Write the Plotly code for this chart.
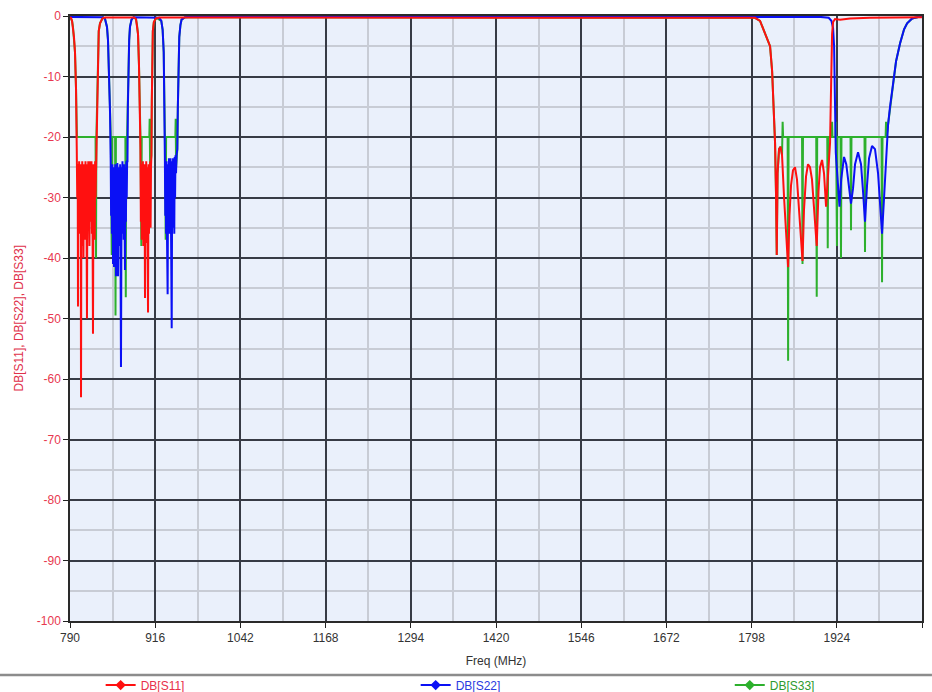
import plotly.graph_objects as go

# ---------------- data ----------------
s11_freq = [790, 791.5, 793, 794.4, 795.9, 797.4, 798.9, 800.0,
            800.7, 801.4, 801.8, 802.3, 802.9, 803.5, 804.1, 804.7, 805.3, 805.8, 806.3, 806.9,
            807.5, 808.1, 808.7, 809.3, 809.9, 810.5, 811.1, 811.7, 812.3, 812.9, 813.5, 814.1,
            815.1, 815.8, 816.4, 817.0, 817.6, 818.2, 818.8, 819.4, 820.0, 820.6, 821.2, 821.8,
            822.4, 823.0, 824.0, 824.8, 825.4, 826.0, 826.6, 827.2, 827.8, 828.4, 829.0, 829.5,
            830.5, 831.3, 832.5, 834.4, 838, 842,
            885, 887.6, 889.1, 890.6, 892, 893.2, 894.2,
            894.8, 895.4, 896.0, 896.6, 897.2, 897.8, 898.4, 899.0, 899.6, 900.2, 900.9, 901.5,
            902.1, 902.7, 903.3, 903.9, 904.5, 905.4, 906.2, 906.8, 907.4, 908.0, 908.6, 909.2,
            909.8, 910.4, 911.0, 911.6, 912.5, 914, 917, 922,
            1800, 1803.1, 1810.5, 1815, 1820.8, 1825.3, 1828.3, 1829.8, 1831.3, 1832.7, 1834.2,
            1835.2, 1836.4, 1838.6, 1840.8, 1843, 1846, 1849, 1852, 1854, 1856.3, 1859.2, 1862.2,
            1865.1, 1868.1, 1871, 1873.3, 1875.5, 1878.5, 1881.4, 1884.4, 1887.3, 1890.3, 1894.3,
            1896.9, 1899.2, 1902.2, 1905.1, 1908.1, 1910.3, 1912.5, 1914, 1915, 1916, 1917,
            1918.5, 1921.4, 1928.8, 1943.6, 1973, 2017.6, 2050]
s11_db = [-0.25, -0.3, -0.8, -1.8, -3.5, -6, -12, -22,
          -30, -24.5, -48, -25, -34, -24, -36, -25, -31, -24.5, -63, -25,
          -38, -24, -33, -25, -40, -24.5, -30, -26, -37, -24, -33, -25,
          -50, -24.5, -35, -24, -31, -25.5, -38, -24, -34, -25, -30, -24,
          -36, -25, -52.5, -24.5, -32, -25, -37, -24, -30, -26, -23, -20,
          -12, -5.6, -2.5, -1.2, -0.4, -0.25,
          -0.25, -0.5, -1.5, -3, -8, -15, -22,
          -34, -24.5, -37, -25, -35, -24, -38, -25, -33, -24.5, -46.6, -25,
          -36, -24, -37.5, -25, -34, -49, -24.5, -36, -25, -33, -24, -35,
          -25, -23, -14, -6, -2.5, -1, -0.4, -0.25,
          -0.25, -0.3, -0.8, -2, -3.5, -5, -9, -13, -17, -21, -30,
          -39.5, -26, -22, -21.6, -23, -30, -35, -41.5, -33, -28, -25.5, -25,
          -27, -32, -37, -40.5, -32, -26.5, -24.5, -25, -27, -32, -38,
          -29, -25, -23.8, -26, -31.5, -27, -23.6, -21, -15, -8, -3,
          -1, -0.5, -0.6, -0.4, -0.3, -0.25, -0.2]

s22_freq = [790, 835, 838.8, 841.8, 844.7, 846.2, 847.7, 849.2, 850.2,
            850.8, 851.4, 852.0, 852.6, 853.6, 854.3, 855.1, 855.8, 856.4, 857.0, 858.0, 858.8,
            859.4, 860.0, 861.0, 861.8, 862.4, 863.0, 863.6, 864.2, 865.4, 866.4, 867.0, 867.6,
            868.2, 868.8, 869.4, 870.0, 871.3, 872.1, 872.7, 873.3, 873.9, 874.5, 875.0, 875.6,
            876.2, 877.5, 878.7, 881, 884, 918, 922, 925, 927, 928.6, 929.5, 930.3,
            930.9, 931.5, 932.1, 932.7, 933.3, 934.4, 935.1, 935.7, 936.3, 936.9, 937.5, 938.1,
            938.7, 939.3, 940.4, 941.2, 941.8, 942.4, 943.0, 943.6, 944.2, 944.8, 945.4, 946.0,
            946.8, 947.6, 948.7, 949.5, 950.2, 951.6, 953.3, 955, 960, 965,
            1900, 1912, 1916, 1918.5, 1920, 1921, 1921.8, 1922.5, 1925.8, 1928, 1930.5, 1934.7,
            1938, 1941, 1945, 1948, 1951, 1955.4, 1959.8, 1962.8, 1965.7, 1968.7, 1971.7, 1976.1,
            1980.5, 1985, 1988, 1990.9, 1993.9, 1996.8, 1998.3, 1999.8, 2002.7, 2007.2, 2011.6,
            2017.6, 2023.5, 2028, 2035.4, 2044.3, 2050]
s22_db = [-0.15, -0.15, -0.2, -0.5, -1.8, -4, -9.5, -16, -24,
          -33, -25, -36, -24.5, -41, -25, -41.5, -26, -35, -24.5, -43, -25,
          -37, -24.3, -43, -26, -34, -25, -38, -24.5, -58, -25, -36, -24,
          -35, -25.5, -37, -24.5, -42, -25, -34, -24, -30, -24, -24, -15,
          -8.4, -4, -1.8, -0.6, -0.2, -0.2, -0.3, -0.8, -2.3, -6, -12, -23.3,
          -33, -24.5, -36, -24, -35, -46, -24.5, -34, -23.5, -36, -24.5, -33,
          -23.5, -37, -51.6, -24, -35, -23.5, -34, -24, -36, -23.3, -30, -23,
          -26, -23, -22, -15, -10, -3.5, -1.5, -0.6, -0.2, -0.15,
          -0.15, -0.3, -0.8, -2, -5, -12, -20, -22.6, -28, -31.5, -27, -23.3,
          -24.5, -27.5, -31, -28.5, -24.5, -22.5, -24.5, -29, -34, -28, -23.5, -21.5,
          -22, -26, -31, -36, -30, -24, -21, -18, -15, -11, -7.5,
          -4.5, -2.2, -1.2, -0.4, -0.15, -0.15]

s33_freq = [790, 793, 794.4, 795.9, 797.4, 798.9, 799.6, 800.2, 827.8, 828.5, 829.0, 829.6,
            830.5, 831.3, 832.5, 834.4, 838.8, 841.8, 844.7, 846.2, 847.7, 849.2, 849.8, 850.4,
            851.7, 852.3, 856.7, 857.3, 857.9, 871.9, 872.5, 873.1, 874.4, 874.8, 875.6, 876.2,
            877.5, 878.7, 881, 884, 887.6, 889.1, 890.6, 892, 893.2, 893.6, 894.2, 895.5, 896.1,
            907.3, 907.8, 908.5, 910.4, 911.0, 911.6, 912.5, 914, 918, 925, 927, 928.6, 929.5,
            929.9, 930.4, 931.5, 932.1, 945.8, 946.3, 946.9, 948.7, 949.5, 950.2, 951.6, 953.3,
            955, 960, 965,
            1800, 1803.1, 1810.5, 1815, 1820.8, 1825.3, 1828.3, 1829.8, 1831.3, 1832.7, 1834.2,
            1835.2, 1836.4, 1838.6, 1840.8, 1843, 1843.9, 1844.6, 1851.3, 1852, 1852.7, 1872.6,
            1873.3, 1874, 1893.6, 1894.3, 1895, 1909.9, 1910.6, 1911.3, 1916.4, 1917, 1917.6,
            1922.0, 1922.5, 1923.0, 1924.2, 1925, 1929.5, 1930.2, 1930.9, 1944.3, 1945, 1945.7,
            1965, 1965.7, 1966.4, 1990.2, 1990.9, 1991.6, 1996.2, 1996.8, 1997.5, 1999.8, 2002.7,
            2007.2, 2011.6, 2017.6, 2023.5, 2028, 2035.4, 2044.3, 2050]
s33_db = [-0.2, -0.8, -1.8, -3.5, -6, -12, -17, -20, -20, -40, -20, -17,
          -12, -5.6, -2.5, -1.2, -0.2, -0.5, -1.8, -4, -9.5, -16, -17, -20,
          -39.5, -20, -20, -49.5, -20, -20, -46.5, -20, -20, -17, -15, -8.4,
          -4, -1.8, -0.6, -0.2, -0.5, -1.5, -3, -8, -15, -17, -20, -38, -20,
          -20, -17, -25, -23, -14, -6, -2.5, -1, -0.3, -0.8, -2.3, -6, -12,
          -17, -20, -37, -20, -20, -17, -25, -22, -15, -10, -3.5, -1.5,
          -0.6, -0.2, -0.2,
          -0.2, -0.3, -0.8, -2, -3.5, -5, -9, -13, -17, -21, -30,
          -39.5, -26, -22, -21.6, -23, -17.5, -20, -20, -57, -20, -20,
          -41, -20, -20, -46.4, -20, -20, -38.4, -20, -20, -17.5, -20,
          -20, -17.5, -20, -38, -20, -20, -40, -20, -20, -35.4, -20,
          -20, -39, -20, -20, -44, -20, -20, -17.5, -20, -18, -15,
          -11, -7.5, -4.5, -2.2, -1.2, -0.4, -0.15, -0.15]

x_ticks = [790, 916, 1042, 1168, 1294, 1420, 1546, 1672, 1798, 1924, 2050]
x_minor = [853, 979, 1105, 1231, 1357, 1483, 1609, 1735, 1861, 1987]
y_ticks = [0, -10, -20, -30, -40, -50, -60, -70, -80, -90, -100]
y_minor = [-5, -15, -25, -35, -45, -55, -65, -75, -85, -95]

series_names = ["DB[S11]", "DB[S22]", "DB[S33]"]
series_colors = ["#FF1010", "#0A10F5", "#2DB02D"]
legend_text_colors = ["#E8304A", "#2A3AE0", "#2E9A2E"]

# ---------------- figure ----------------
fig = go.Figure()

# draw order: S33 (green) under, then S22 (blue), then S11 (red) on top
fig.add_trace(go.Scatter(x=s33_freq, y=s33_db, mode="lines",
                         line=dict(color=series_colors[2], width=2), showlegend=False,
                         hoverinfo="skip"))
fig.add_trace(go.Scatter(x=s22_freq, y=s22_db, mode="lines",
                         line=dict(color=series_colors[1], width=2), showlegend=False,
                         hoverinfo="skip"))
fig.add_trace(go.Scatter(x=s11_freq, y=s11_db, mode="lines",
                         line=dict(color=series_colors[0], width=2), showlegend=False,
                         hoverinfo="skip"))

font_family = "Liberation Sans, Arial, sans-serif"

# legend entries, each in its own legend box so they can be spaced like the original
legend_keys = ["legend", "legend2", "legend3"]
legend_x = [0.108, 0.446, 0.783]
for key, name, col, tcol in zip(legend_keys, series_names, series_colors, legend_text_colors):
    fig.add_trace(go.Scatter(x=[None], y=[None], mode="lines+markers",
                             line=dict(color=col, width=2),
                             marker=dict(symbol="diamond", size=8, color=col),
                             name='<span style="color:%s">%s</span>' % (tcol, name),
                             legend=key))

legend_common = dict(orientation="h", xref="container", yref="container",
                     xanchor="left", yanchor="middle", y=0.01,
                     bgcolor="rgba(0,0,0,0)", font=dict(family=font_family, size=12),
                     itemwidth=30)
legend_layout = {}
for key, lx in zip(legend_keys, legend_x):
    d = dict(legend_common)
    d["x"] = lx
    legend_layout[key] = d

fig.update_layout(
    width=932, height=692,
    margin=dict(l=70, r=10, t=16, b=71, autoexpand=False),
    plot_bgcolor="#EAF0FB",
    paper_bgcolor="white",
    font=dict(family=font_family, size=12, color="#333333"),
    showlegend=True,
    hovermode=False,
    xaxis=dict(
        range=[790, 2050], tickmode="array", tickvals=x_ticks,
        ticktext=[str(v) for v in x_ticks],
        ticks="outside", ticklen=5, tickcolor="#222222", tickwidth=1,
        tickfont=dict(color="#333333", size=12),
        showgrid=True, gridcolor="#373B45", gridwidth=1.5,
        minor=dict(tickmode="array", tickvals=x_minor, showgrid=True,
                   gridcolor="#C8CCD5", gridwidth=1.5, ticks=""),
        showline=True, linecolor="#2A2A2A", linewidth=1.5, mirror=True,
        zeroline=False, automargin=False,
        title=dict(text="Freq (MHz)", standoff=12, font=dict(size=12, color="#333333")),
    ),
    yaxis=dict(
        range=[-100, 0], tickmode="array", tickvals=y_ticks,
        ticktext=[str(v) for v in y_ticks],
        ticks="outside", ticklen=5, tickcolor="#222222", tickwidth=1,
        tickfont=dict(color="#E8384F", size=12),
        showgrid=True, gridcolor="#373B45", gridwidth=1.5,
        minor=dict(tickmode="array", tickvals=y_minor, showgrid=True,
                   gridcolor="#C8CCD5", gridwidth=1.5, ticks=""),
        showline=True, linecolor="#2A2A2A", linewidth=1.5, mirror=True,
        zeroline=False, automargin=False,
    ),
    annotations=[dict(text="DB[S11], DB[S22], DB[S33]", textangle=-90,
                      xref="paper", yref="paper", x=-0.061, y=0.5,
                      xanchor="center", yanchor="middle", showarrow=False,
                      font=dict(family=font_family, size=12, color="#E0304A"))],
    shapes=[dict(type="line", xref="paper", yref="paper",
                 x0=-0.0822, x1=1.0117, y0=-0.0893, y1=-0.0893,
                 line=dict(color="#8C8C8C", width=2.5))],
    **legend_layout,
)

fig.write_html("out.html",
               config={"displayModeBar": False},
               post_script="document.body.style.margin='0px';"
                           "document.body.style.padding='0px';"
                           "document.documentElement.style.overflow='hidden';")
